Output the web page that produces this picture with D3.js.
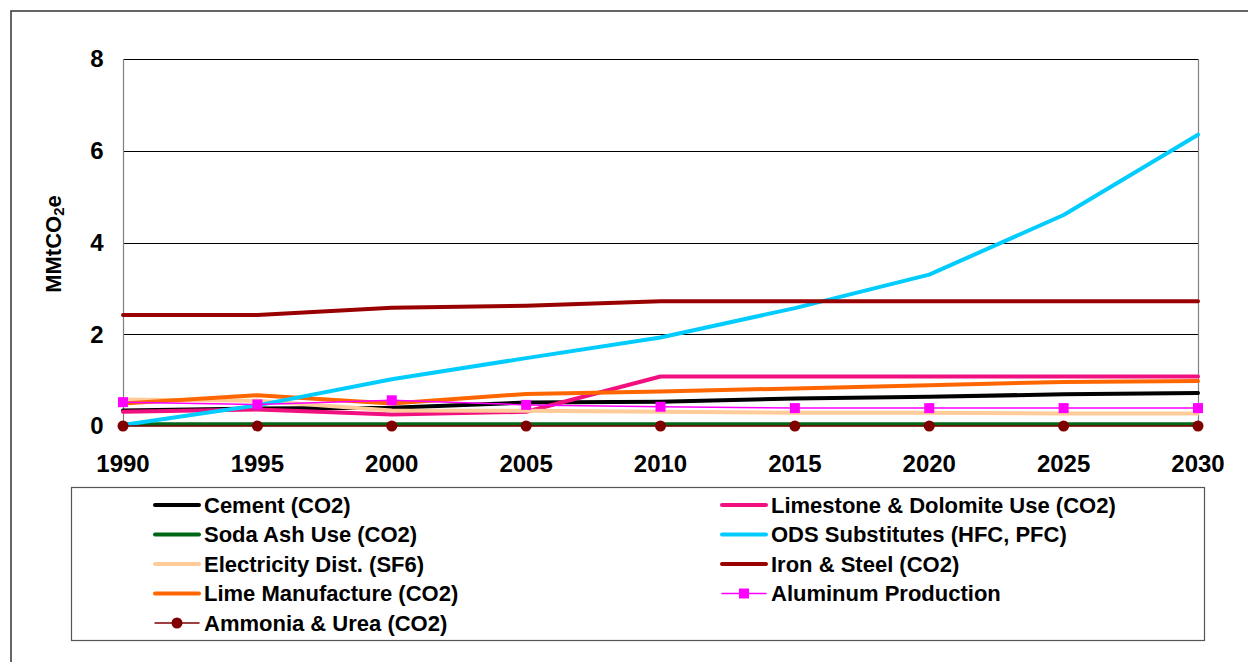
<!DOCTYPE html>
<html>
<head>
<meta charset="utf-8">
<script src="https://cdn.jsdelivr.net/npm/d3@7"></script>
<style>
  body { margin: 0; background: #fff; }
  text { font-family: "Liberation Sans", Arial, sans-serif; font-weight: bold; }
</style>
</head>
<body>
<div id="chart"></div>
<script>
// Data
const years = [1990, 1995, 2000, 2005, 2010, 2015, 2020, 2025, 2030];
const yTicks = [0, 2, 4, 6, 8];

const cement      = [0.34, 0.38, 0.40, 0.51, 0.53, 0.60, 0.64, 0.69, 0.72];
const limestone   = [0.31, 0.36, 0.25, 0.31, 1.08, 1.08, 1.08, 1.08, 1.08];
const sodaAsh     = [0.04, 0.04, 0.04, 0.04, 0.04, 0.04, 0.04, 0.04, 0.04];
const odsSubst    = [0.02, 0.45, 1.02, 1.48, 1.93, 2.57, 3.30, 4.60, 6.35];
const electricity = [0.58, 0.55, 0.34, 0.33, 0.31, 0.29, 0.29, 0.27, 0.27];
const ironSteel   = [2.42, 2.42, 2.58, 2.62, 2.72, 2.72, 2.72, 2.72, 2.72];
const lime        = [0.49, 0.67, 0.49, 0.70, 0.75, 0.82, 0.89, 0.96, 0.98];
const aluminum    = [0.52, 0.47, 0.56, 0.46, 0.42, 0.39, 0.39, 0.39, 0.39];
const ammonia     = [0, 0, 0, 0, 0, 0, 0, 0, 0];

const series = [
  { name: "Cement (CO2)", values: cement, color: "#000000", width: 4, col: 0, row: 0 },
  { name: "Limestone & Dolomite Use (CO2)", values: limestone, color: "#F0107F", width: 4, col: 1, row: 0 },
  { name: "Soda Ash Use (CO2)", values: sodaAsh, color: "#006617", width: 4, col: 0, row: 1 },
  { name: "ODS Substitutes (HFC, PFC)", values: odsSubst, color: "#00CCFF", width: 4, col: 1, row: 1 },
  { name: "Electricity Dist. (SF6)", values: electricity, color: "#FFCC99", width: 4, col: 0, row: 2 },
  { name: "Iron & Steel (CO2)", values: ironSteel, color: "#990000", width: 4, col: 1, row: 2 },
  { name: "Lime Manufacture (CO2)", values: lime, color: "#FF6600", width: 4, col: 0, row: 3 },
  { name: "Aluminum Production", values: aluminum, color: "#FF00FF", width: 1.5, marker: "square", col: 1, row: 3 },
  { name: "Ammonia & Urea (CO2)", values: ammonia, color: "#800000", width: 1.5, marker: "circle", col: 0, row: 4 }
];

const width = 1248, height = 662;
const plot = { left: 123, right: 1198, top: 59, bottom: 426 };

const svg = d3.select("#chart").append("svg")
  .attr("width", width)
  .attr("height", height);

// Outer frame
svg.append("rect")
  .attr("x", 11).attr("y", 11)
  .attr("width", width + 10).attr("height", height + 10)
  .attr("fill", "none").attr("stroke", "#333").attr("stroke-width", 1.5);

const x = d3.scaleLinear().domain([1990, 2030]).range([plot.left, plot.right]);
const y = d3.scaleLinear().domain([0, 8]).range([plot.bottom, plot.top]);

// Gridlines
svg.append("g")
  .selectAll("line")
  .data(yTicks.filter(t => t > 0))
  .join("line")
  .attr("x1", plot.left).attr("x2", plot.right)
  .attr("y1", d => Math.round(y(d)) + 0.5).attr("y2", d => Math.round(y(d)) + 0.5)
  .attr("stroke", "#000").attr("stroke-width", 1);

// Left and right plot edges
svg.append("line")
  .attr("x1", plot.left + 0.5).attr("x2", plot.left + 0.5)
  .attr("y1", plot.top).attr("y2", plot.bottom)
  .attr("stroke", "#808080").attr("stroke-width", 1.2);
svg.append("line")
  .attr("x1", plot.right + 0.5).attr("x2", plot.right + 0.5)
  .attr("y1", plot.top).attr("y2", plot.bottom)
  .attr("stroke", "#808080").attr("stroke-width", 1.2);

// Y tick labels
svg.append("g")
  .selectAll("text")
  .data(yTicks)
  .join("text")
  .attr("x", 97)
  .attr("y", d => y(d))
  .attr("dy", "0.35em")
  .attr("text-anchor", "middle")
  .attr("font-size", 24)
  .text(d => d);

// X tick labels
svg.append("g")
  .selectAll("text")
  .data(years)
  .join("text")
  .attr("x", d => x(d))
  .attr("y", 472)
  .attr("text-anchor", "middle")
  .attr("font-size", 24)
  .text(d => d);

// Y axis title
const yTitle = svg.append("text")
  .attr("transform", "translate(61,244) rotate(-90)")
  .attr("text-anchor", "middle")
  .attr("font-size", 22);
yTitle.append("tspan").text("MMtCO");
yTitle.append("tspan").attr("font-size", 15).attr("dy", 3).text("2");
yTitle.append("tspan").attr("dy", -3).text("e");

// Lines
const line = d3.line()
  .x((d, i) => x(years[i]))
  .y(d => y(d));

const drawOrder = [0, 1, 2, 4, 6, 3, 5, 7, 8];
drawOrder.forEach(k => {
  const s = series[k];
  svg.append("path")
    .datum(s.values)
    .attr("d", line)
    .attr("fill", "none")
    .attr("stroke", s.color)
    .attr("stroke-width", s.width)
    .attr("stroke-linejoin", "round")
    .attr("stroke-linecap", "round");
  if (s.marker === "square") {
    svg.append("g").selectAll("rect")
      .data(s.values)
      .join("rect")
      .attr("x", (d, i) => x(years[i]) - 5)
      .attr("y", d => y(d) - 5)
      .attr("width", 10).attr("height", 10)
      .attr("fill", s.color);
  } else if (s.marker === "circle") {
    svg.append("g").selectAll("circle")
      .data(s.values)
      .join("circle")
      .attr("cx", (d, i) => x(years[i]))
      .attr("cy", d => y(d))
      .attr("r", 5.5)
      .attr("fill", s.color);
  }
});

// Legend
svg.append("rect")
  .attr("x", 71.5).attr("y", 487.5)
  .attr("width", 1133).attr("height", 153)
  .attr("fill", "#fff").attr("stroke", "#555").attr("stroke-width", 1.2);

const legendCols = [155, 722];
const legendRowY = d3.scaleLinear().domain([0, 4]).range([505, 623]);

series.forEach(s => {
  const lx = legendCols[s.col];
  const ly = legendRowY(s.row);
  const g = svg.append("g");
  g.append("line")
    .attr("x1", lx).attr("x2", lx + 44)
    .attr("y1", ly).attr("y2", ly)
    .attr("stroke", s.color)
    .attr("stroke-width", s.width)
    .attr("stroke-linecap", "round");
  if (s.marker === "square") {
    g.append("rect")
      .attr("x", lx + 22 - 5).attr("y", ly - 5)
      .attr("width", 10).attr("height", 10)
      .attr("fill", s.color);
  } else if (s.marker === "circle") {
    g.append("circle")
      .attr("cx", lx + 22).attr("cy", ly).attr("r", 5.5)
      .attr("fill", s.color);
  }
  g.append("text")
    .attr("x", lx + 49)
    .attr("y", ly)
    .attr("dy", "0.35em")
    .attr("font-size", 22)
    .text(s.name);
});
</script>
</body>
</html>
